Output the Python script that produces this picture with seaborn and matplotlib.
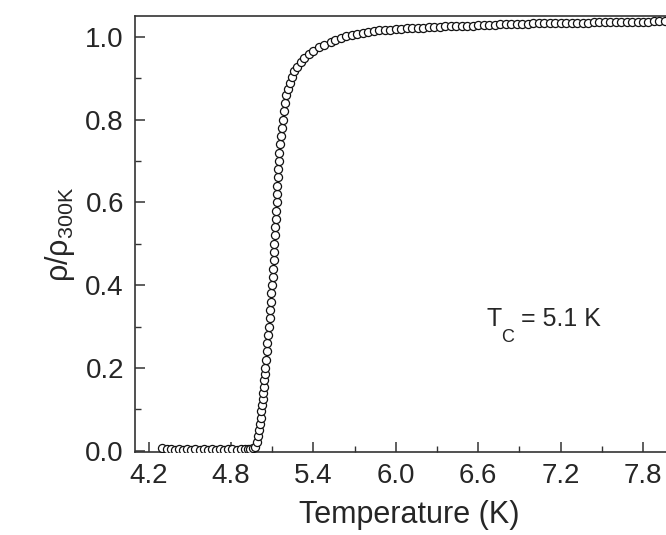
import numpy as np
import pandas as pd
import seaborn as sns
import matplotlib.pyplot as plt

# superconducting state, flat near zero
temp_low = [4.30, 4.33, 4.36, 4.39, 4.42, 4.45, 4.48, 4.51, 4.54, 4.57,
            4.60, 4.63, 4.66, 4.69, 4.72, 4.75, 4.78, 4.81, 4.84, 4.87,
            4.90, 4.92, 4.94, 4.96]
rho_low = [0.006, 0.004, 0.004, 0.003, 0.004, 0.003, 0.004, 0.003, 0.004, 0.003,
           0.004, 0.003, 0.004, 0.003, 0.004, 0.003, 0.004, 0.004, 0.003, 0.004,
           0.004, 0.005, 0.005, 0.006]

# transition
temp_mid = [4.975, 4.985, 4.995, 5.003, 5.010, 5.016, 5.021, 5.026, 5.030, 5.034,
            5.038, 5.042, 5.046, 5.050, 5.055, 5.060, 5.065, 5.070, 5.075, 5.080,
            5.085, 5.090, 5.094, 5.098, 5.102, 5.106, 5.110, 5.113, 5.116, 5.119,
            5.122, 5.125, 5.128, 5.131, 5.134, 5.137, 5.140, 5.144, 5.148, 5.152,
            5.157, 5.162, 5.168, 5.175, 5.183, 5.192, 5.202, 5.213, 5.226, 5.242,
            5.260, 5.282, 5.306, 5.334, 5.366, 5.400, 5.440, 5.480, 5.525]
rho_mid = [0.010, 0.020, 0.035, 0.050, 0.065, 0.080, 0.095, 0.110, 0.125, 0.140,
           0.155, 0.170, 0.185, 0.200, 0.220, 0.240, 0.260, 0.280, 0.300, 0.320,
           0.340, 0.360, 0.380, 0.400, 0.420, 0.440, 0.460, 0.480, 0.500, 0.520,
           0.540, 0.560, 0.580, 0.600, 0.620, 0.640, 0.660, 0.680, 0.700, 0.720,
           0.740, 0.760, 0.780, 0.800, 0.820, 0.840, 0.858, 0.874, 0.889, 0.903,
           0.916, 0.928, 0.939, 0.949, 0.958, 0.966, 0.974, 0.981, 0.988]

# normal state plateau
temp_high = [5.56, 5.60, 5.64, 5.68, 5.72, 5.76, 5.80, 5.84, 5.88, 5.92,
             5.96, 6.00, 6.04, 6.08, 6.12, 6.16, 6.20, 6.24, 6.28, 6.32,
             6.36, 6.40, 6.44, 6.48, 6.52, 6.56, 6.60, 6.64, 6.68, 6.72,
             6.76, 6.80, 6.84, 6.88, 6.92, 6.96, 7.00, 7.04, 7.08, 7.12,
             7.16, 7.20, 7.24, 7.28, 7.32, 7.36, 7.40, 7.44, 7.48, 7.52,
             7.56, 7.60, 7.64, 7.68, 7.72, 7.76, 7.80, 7.84, 7.88, 7.92,
             7.96]
rho_high = [0.993, 0.997, 1.001, 1.004, 1.007, 1.009, 1.011, 1.013, 1.015, 1.016,
            1.017, 1.018, 1.019, 1.020, 1.021, 1.022, 1.022, 1.023, 1.024, 1.024,
            1.025, 1.025, 1.026, 1.026, 1.027, 1.027, 1.028, 1.028, 1.029, 1.029,
            1.030, 1.030, 1.030, 1.031, 1.031, 1.031, 1.032, 1.032, 1.032, 1.033,
            1.033, 1.033, 1.033, 1.034, 1.034, 1.034, 1.034, 1.035, 1.035, 1.035,
            1.035, 1.035, 1.036, 1.036, 1.036, 1.036, 1.036, 1.036, 1.037, 1.037,
            1.037]

xticks = [4.2, 4.8, 5.4, 6.0, 6.6, 7.2, 7.8]
yticks = [0.0, 0.2, 0.4, 0.6, 0.8, 1.0]

df = pd.DataFrame({'T': temp_low + temp_mid + temp_high,
                   'rho': rho_low + rho_mid + rho_high})

sns.set_style('ticks')
plt.rcParams['font.family'] = ['Liberation Sans', 'DejaVu Sans']

fig = plt.figure(figsize=(6.66, 5.35), dpi=100)
ax = fig.add_axes([0.2027, 0.1551, 0.8246, 0.815])

sns.scatterplot(data=df, x='T', y='rho', ax=ax, marker='o', s=34,
                color='white', edgecolor='#111111', linewidth=0.9, zorder=3)

ax.set_xlim(4.1, 8.1)
ax.set_ylim(-0.003, 1.05)
ax.set_xticks(xticks)
ax.set_xticklabels([f'{t:.1f}' for t in xticks])
ax.set_yticks(yticks)
ax.set_yticklabels([f'{t:.1f}' for t in yticks])
ax.set_xticks([4.5, 5.1, 5.7, 6.3, 6.9, 7.5], minor=True)
ax.set_yticks([0.1, 0.3, 0.5, 0.7, 0.9], minor=True)
ax.tick_params(which='major', direction='in', length=7, width=1.1, labelsize=20,
               pad=8, color='#333333')
ax.tick_params(which='minor', direction='in', length=4, width=1.0, color='#333333')
for sp in ax.spines.values():
    sp.set_linewidth(1.2)
    sp.set_color('#333333')

ax.set_xlabel('Temperature (K)', fontsize=22, labelpad=8)
ax.set_ylabel('ρ/ρ$_{\\mathregular{300K}}$', fontsize=22, labelpad=6)

ax.text(6.66, 0.302, 'T', fontsize=18)
ax.text(6.77, 0.263, 'C', fontsize=13)
ax.text(6.91, 0.302, '= 5.1 K', fontsize=18)

plt.savefig('out.png', dpi=100)
